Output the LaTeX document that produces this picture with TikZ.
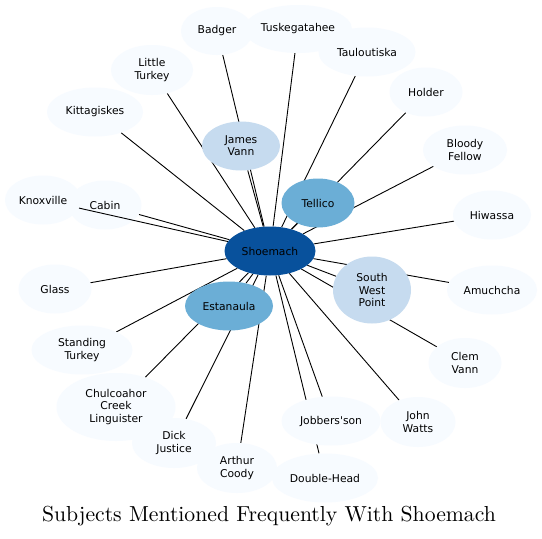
\documentclass[tikz,border=0pt]{standalone}
\usepackage{fontspec}
\newfontfamily\nodefont{DejaVu Sans}
\newfontfamily\titlefont{lmroman10-regular}[Extension=.otf]
\usetikzlibrary{shapes.geometric}
\pgfdeclarelayer{background}
\pgfdeclarelayer{canvas}
\pgfsetlayers{canvas,background,main}
\definecolor{bA}{HTML}{F7FBFF}
\definecolor{bC}{HTML}{C6DBEF}
\definecolor{bE}{HTML}{6BAED6}
\definecolor{bH}{HTML}{08519C}
\begin{document}
\begin{tikzpicture}[x=1pt,y=-1pt,
  subj/.style={ellipse, inner sep=0pt, align=center, fill=bA,
    font=\nodefont\fontsize{10.75}{12.3}\selectfont},
  link/.style={draw=black, line width=0.9pt}]
\begin{pgfonlayer}{canvas}
\fill[white] (0,0) rectangle (542,539);
\end{pgfonlayer}
\useasboundingbox (0,0) rectangle (542,539);
% nodes
\node[subj, fill=bH, minimum width=91pt, minimum height=49pt] (shoemach) at (270,251) {Shoemach};
\node[subj, fill=bE, minimum width=73pt, minimum height=49pt] (tellico) at (318,203) {Tellico};
\node[subj, fill=bE, minimum width=88pt, minimum height=49pt] (estanaula) at (229,306) {Estanaula};
\node[subj, fill=bC, minimum width=78pt, minimum height=67pt] (swp) at (372,290) {South\\West\\Point};
\node[subj, fill=bC, minimum width=78pt, minimum height=49pt] (jvann) at (241,146) {James\\Vann};
\node[subj, minimum width=72pt, minimum height=48pt] (badger) at (217,31) {Badger};
\node[subj, minimum width=108pt, minimum height=48pt] (tusk) at (298,29) {Tuskegatahee};
\node[subj, minimum width=97pt, minimum height=49pt] (taul) at (367,52) {Tauloutiska};
\node[subj, minimum width=73pt, minimum height=49pt] (holder) at (426,92) {Holder};
\node[subj, minimum width=84pt, minimum height=49pt] (bloody) at (465,150) {Bloody\\Fellow};
\node[subj, minimum width=78pt, minimum height=49pt] (hiwassa) at (492,215) {Hiwassa};
\node[subj, minimum width=90pt, minimum height=49pt] (amuchcha) at (492,290) {Amuchcha};
\node[subj, minimum width=73pt, minimum height=50pt] (clem) at (465,363) {Clem\\Vann};
\node[subj, minimum width=75pt, minimum height=50pt] (watts) at (418,422) {John\\Watts};
\node[subj, minimum width=106pt, minimum height=49pt] (double) at (325,478) {Double-Head};
\node[subj, minimum width=99pt, minimum height=49pt] (jobbers) at (331,421) {Jobbers'son};
\node[subj, minimum width=84pt, minimum height=50pt] (dick) at (174,443) {Dick\\Justice};
\node[subj, minimum width=80pt, minimum height=50pt] (arthur) at (237,468) {Arthur\\Coody};
\node[subj, minimum width=119pt, minimum height=68pt] (chulc) at (116,407) {Chulcoahor\\Creek\\Linguister};
\node[subj, minimum width=101pt, minimum height=49pt] (standing) at (82,350) {Standing\\Turkey};
\node[subj, minimum width=73pt, minimum height=49pt] (glass) at (55,289) {Glass};
\node[subj, minimum width=76pt, minimum height=49pt] (knox) at (43,200) {Knoxville};
\node[subj, minimum width=73pt, minimum height=49pt] (cabin) at (105,205) {Cabin};
\node[subj, minimum width=96pt, minimum height=49pt] (kitta) at (95,112) {Kittagiskes};
\node[subj, minimum width=82pt, minimum height=50pt] (little) at (152,70) {Little\\Turkey};
% edges
\begin{pgfonlayer}{background}
\foreach \t in {tellico,estanaula,swp,jvann,badger,tusk,taul,holder,bloody,hiwassa,amuchcha,clem,watts,double,jobbers,dick,arthur,chulc,standing,glass,cabin,kitta,little}
  \draw[link] (shoemach) -- (\t);
\end{pgfonlayer}
\draw[link] (shoemach) -- (knox);
% title
\node[anchor=base, font=\titlefont\fontsize{21.7}{25}\selectfont, inner sep=0pt] (title) at (269,521) {Subjects Mentioned Frequently With Shoemach};
\end{tikzpicture}
\end{document}
